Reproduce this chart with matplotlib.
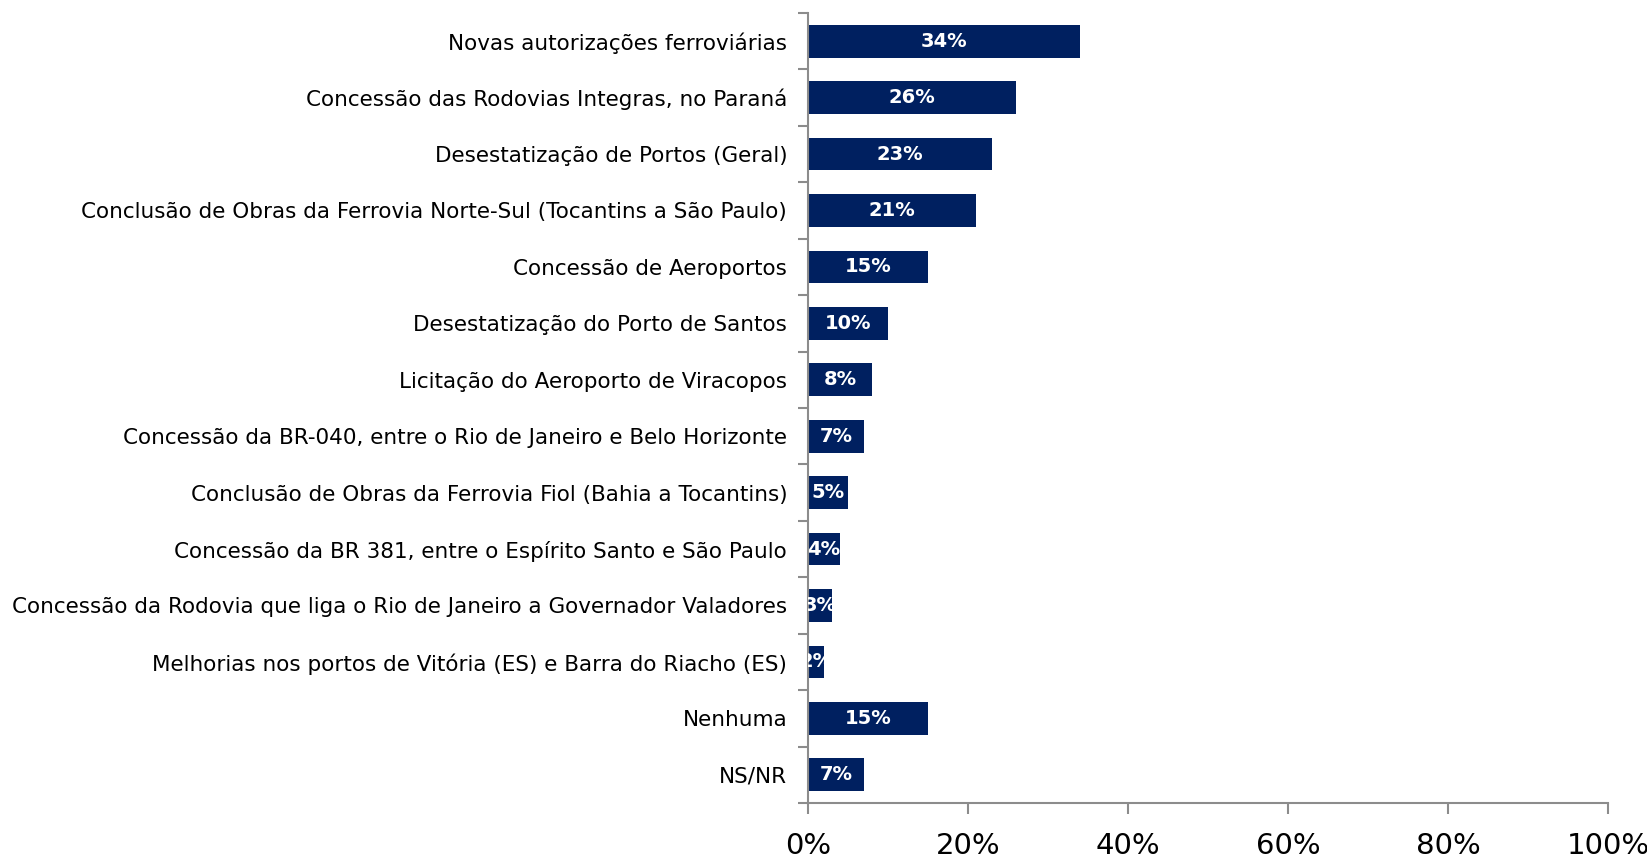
import matplotlib
matplotlib.use("Agg")
import matplotlib.pyplot as plt
import numpy as np

# Dados do gráfico
categorias = [
    "Novas autorizações ferroviárias",
    "Concessão das Rodovias Integras, no Paraná",
    "Desestatização de Portos (Geral)",
    "Conclusão de Obras da Ferrovia Norte-Sul (Tocantins a São Paulo)",
    "Concessão de Aeroportos",
    "Desestatização do Porto de Santos",
    "Licitação do Aeroporto de Viracopos",
    "Concessão da BR-040, entre o Rio de Janeiro e Belo Horizonte",
    "Conclusão de Obras da Ferrovia Fiol (Bahia a Tocantins)",
    "Concessão da BR 381, entre o Espírito Santo e São Paulo",
    "Concessão da Rodovia que liga o Rio de Janeiro a Governador Valadores",
    "Melhorias nos portos de Vitória (ES) e Barra do Riacho (ES)",
    "Nenhuma",
    "NS/NR",
]
valores = [34, 26, 23, 21, 15, 10, 8, 7, 5, 4, 3, 2, 15, 7]
ticks_x = [0, 20, 40, 60, 80, 100]

plt.rcParams['font.family'] = ['DejaVu Sans']

fig = plt.figure(figsize=(16.47, 8.59), dpi=100)
ax = fig.add_axes([0.4906, 0.0652, 0.9763 - 0.4906, 0.9849 - 0.0652])

cinza = '#8c8c8c'
azul = '#002060'

y = np.arange(len(categorias))
ax.barh(y, valores, height=0.58, color=azul)

# rótulos dentro das barras (cortados na borda do eixo, como no original)
for yi, v in zip(y, valores):
    ax.text(v / 2, yi, f"{v}%", ha='center', va='center', color='white',
            fontsize=14, fontweight='bold', clip_on=True)

ax.set_xlim(0, 100)
ax.set_ylim(len(categorias) - 0.5, -0.5)

ax.set_yticks(y)
ax.set_yticklabels(categorias, fontsize=15.5)
ax.tick_params(axis='y', which='major', length=0, pad=15)
ax.set_yticks(np.arange(-0.5, len(categorias), 1), minor=True)
ax.tick_params(axis='y', which='minor', length=7, color=cinza, width=1.5)

ax.set_xticks(ticks_x)
ax.set_xticklabels([f"{t}%" for t in ticks_x], fontsize=21)
ax.tick_params(axis='x', length=8, color=cinza, width=1.5, pad=13)

for lado in ['top', 'right']:
    ax.spines[lado].set_visible(False)
for lado in ['left', 'bottom']:
    ax.spines[lado].set_color(cinza)
    ax.spines[lado].set_linewidth(1.5)

fig.savefig('out.png', dpi=100)
